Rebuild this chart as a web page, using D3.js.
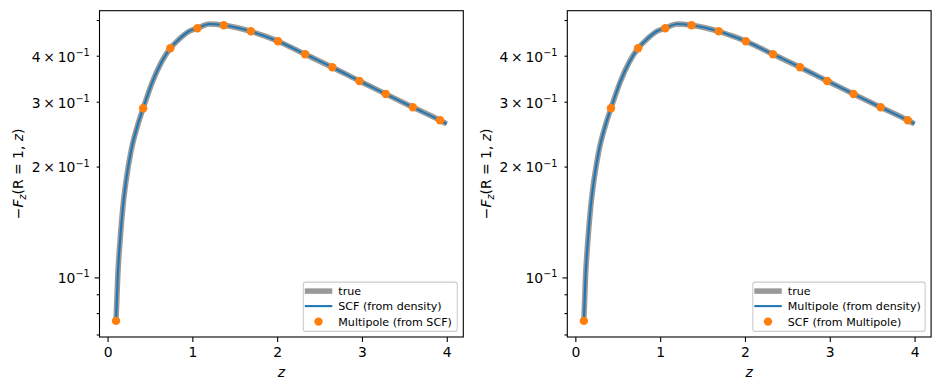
<!DOCTYPE html>
<html>
<head>
<meta charset="utf-8">
<script src="https://cdn.jsdelivr.net/npm/d3@7"></script>
<style>
  body { margin: 0; background: #fff; }
  svg { font-family: "DejaVu Sans", sans-serif; }
</style>
</head>
<body>
<div id="chart"></div>
<script>
// curve values (both solid lines overlap)
const lineZ = [0.10, 0.12, 0.15, 0.18, 0.22, 0.28, 0.35, 0.42, 0.53, 0.64, 0.74, 0.85, 0.96, 1.06, 1.20, 1.37, 1.53, 1.69, 1.85, 2.01, 2.33, 2.65, 2.97, 3.28, 3.60, 3.92, 4.00];
const trueF = [0.0762, 0.1004, 0.1281, 0.1546, 0.1841, 0.2222, 0.2567, 0.288, 0.340, 0.386, 0.419, 0.445, 0.466, 0.475, 0.4877, 0.484, 0.4764, 0.466, 0.4526, 0.438, 0.4036, 0.3722, 0.3415, 0.3149, 0.2897, 0.2671, 0.2611];
const densityF = [0.0762, 0.1004, 0.1281, 0.1546, 0.1841, 0.2222, 0.2567, 0.288, 0.340, 0.386, 0.419, 0.445, 0.466, 0.475, 0.4877, 0.484, 0.4764, 0.466, 0.4526, 0.438, 0.4036, 0.3722, 0.3415, 0.3149, 0.2897, 0.2671, 0.2611];
// orange markers
const pointZ = [0.10, 0.42, 0.74, 1.06, 1.37, 1.69, 2.01, 2.33, 2.65, 2.97, 3.28, 3.60, 3.92];
const pointF = [0.0762, 0.288, 0.419, 0.475, 0.484, 0.466, 0.438, 0.4036, 0.3722, 0.3415, 0.3149, 0.2897, 0.2671];

const xTicks = [0, 1, 2, 3, 4];
const yMajor = [0.1];
const yMinor = [0.07, 0.08, 0.09, 0.2, 0.3, 0.4, 0.5];
const yLabelled = {0.1: ["10", "\u22121"], 0.2: ["2\u2009\u00d7\u200910", "\u22121"], 0.3: ["3\u2009\u00d7\u200910", "\u22121"], 0.4: ["4\u2009\u00d7\u200910", "\u22121"]};

const panels = [
    {left: 99.5, legend: ["true", "SCF (from density)", "Multipole (from SCF)"], legendW: 154},
    {left: 567.3, legend: ["true", "Multipole (from density)", "SCF (from Multipole)"], legendW: 172.3}
];

const W = 363.8, H = 326.3, topPad = 10.7;
const fs = 13.9, legFs = 11.1;

const svg = d3.select("#chart").append("svg")
    .attr("width", 939)
    .attr("height", 390);

const x = d3.scaleLinear().domain([-0.095, 4.195]).range([0, W]);
const y = d3.scaleLog().domain([0.0689, 0.530]).range([H, 0]);

const line = d3.line()
    .x(d => x(d[0]))
    .y(d => y(d[1]))
    .curve(d3.curveMonotoneX);

panels.forEach((p, pi) => {
    const g = svg.append("g").attr("transform", `translate(${p.left},${topPad})`);

    // x axis
    const xa = g.append("g")
        .attr("transform", `translate(0,${H})`)
        .call(d3.axisBottom(x).tickValues(xTicks).tickSize(4.9).tickPadding(4.9).tickFormat(d3.format("d")));
    // y axis, major + minor
    const ya = g.append("g")
        .call(d3.axisLeft(y).tickValues(yMajor).tickSize(4.9).tickPadding(4.9).tickFormat(""));
    const ym = g.append("g")
        .call(d3.axisLeft(y).tickValues(yMinor).tickSize(2.8).tickPadding(7).tickFormat(""));
    [xa, ya, ym].forEach(a => {
        a.select(".domain").remove();
        a.selectAll("line").attr("stroke", "#000").attr("stroke-width", 1.1);
        a.selectAll("text").attr("font-size", fs).attr("fill", "#000").attr("font-family", "DejaVu Sans");
    });

    // y tick labels with superscripts
    Object.keys(yLabelled).forEach(k => {
        const t = g.append("text")
            .attr("x", -9.8)
            .attr("y", y(+k))
            .attr("dy", "0.42em")
            .attr("text-anchor", "end")
            .attr("font-size", fs)
            .attr("fill", "#000");
        t.append("tspan").text(yLabelled[k][0]);
        t.append("tspan").attr("font-size", fs * 0.7).attr("dy", "-0.6em").text(yLabelled[k][1]);
    });

    // clip for the lines
    const cid = "clip" + pi;
    g.append("clipPath").attr("id", cid).append("rect").attr("width", W).attr("height", H);
    const plot = g.append("g").attr("clip-path", `url(#${cid})`);

    plot.append("path")
        .attr("d", line(d3.zip(lineZ, trueF)))
        .attr("fill", "none")
        .attr("stroke", "#808080")
        .attr("stroke-opacity", 0.8)
        .attr("stroke-width", 5.5);

    plot.append("path")
        .attr("d", line(d3.zip(lineZ, densityF)))
        .attr("fill", "none")
        .attr("stroke", "#1f77b4")
        .attr("stroke-width", 2.1);

    g.selectAll(".pt")
        .data(d3.zip(pointZ, pointF))
        .enter()
        .append("circle")
        .attr("cx", d => x(d[0]))
        .attr("cy", d => y(d[1]))
        .attr("r", 4.2)
        .attr("fill", "#ff7f0e");

    // frame
    g.append("rect")
        .attr("width", W).attr("height", H)
        .attr("fill", "none").attr("stroke", "#000").attr("stroke-width", 1.1);

    // axis titles
    g.append("text")
        .attr("x", W / 2).attr("y", H + 40)
        .attr("text-anchor", "middle")
        .attr("font-size", fs)
        .attr("font-style", "italic")
        .text("z");

    const yl = g.append("text")
        .attr("transform", `translate(-81.5,${H / 2}) rotate(-90)`)
        .attr("text-anchor", "middle")
        .attr("dy", "0.35em")
        .attr("font-size", fs);
    yl.append("tspan").text("\u2212");
    yl.append("tspan").attr("font-style", "italic").text("F");
    yl.append("tspan").attr("font-style", "italic").attr("font-size", fs * 0.7).attr("dy", "0.3em").text("z");
    yl.append("tspan").attr("dy", "-0.21em").text("(R = 1, ");
    yl.append("tspan").attr("font-style", "italic").text("z");
    yl.append("tspan").text(")");

    // legend
    const lw = p.legendW, lh = 49.3;
    const lg = g.append("g").attr("transform", `translate(${W - 6 - lw},${H - 5.6 - lh})`);
    lg.append("rect")
        .attr("width", lw).attr("height", lh)
        .attr("rx", 2.5)
        .attr("fill", "#fff").attr("fill-opacity", 0.8)
        .attr("stroke", "#cccccc").attr("stroke-width", 1.1);
    const rows = [9, 24, 39.5];
    lg.append("line")
        .attr("x1", 1.5).attr("x2", 29).attr("y1", rows[0]).attr("y2", rows[0])
        .attr("stroke", "#808080").attr("stroke-opacity", 0.8).attr("stroke-width", 5.5);
    lg.append("line")
        .attr("x1", 1.5).attr("x2", 29).attr("y1", rows[1]).attr("y2", rows[1])
        .attr("stroke", "#1f77b4").attr("stroke-width", 2.1);
    lg.append("circle")
        .attr("cx", 15.2).attr("cy", rows[2]).attr("r", 4.2)
        .attr("fill", "#ff7f0e");
    p.legend.forEach((t, i) => {
        lg.append("text")
            .attr("x", 35).attr("y", rows[i])
            .attr("dy", "0.36em")
            .attr("font-size", legFs)
            .text(t);
    });
});
</script>
</body>
</html>
